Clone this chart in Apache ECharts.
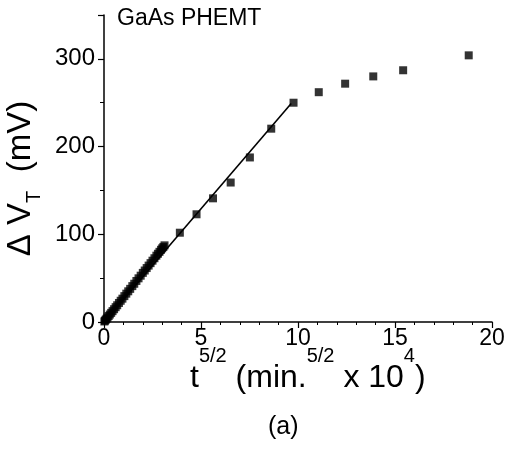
<!DOCTYPE html>
<html><head><meta charset="utf-8">
<script src="https://cdn.jsdelivr.net/npm/echarts@6/dist/echarts.min.js"></script>
<style>html,body{margin:0;padding:0;background:#fff}#c{width:507px;height:449px}</style>
</head><body><div id="c"></div>
<script>
// Dense early measurements (x = t^(5/2) in min^(5/2) x 1e4, y = ΔVT in mV)
var denseX = [0.02,0.05,0.09,0.13,0.18,0.24,0.30,0.37,0.44,0.52,0.60,0.68,0.77,0.86,0.95,1.05,1.15,1.25,1.35,1.46,1.56,1.67,1.78,1.89,2.00,2.10,2.20,2.30,2.40,2.50,2.60,2.70,2.78,2.86,2.94,3.00,3.06,3.12];
var denseY = [0.6,1.5,2.6,3.7,5.1,6.8,8.5,10.4,12.4,14.6,16.9,19.1,21.7,24.2,26.6,29.5,32.3,35.0,37.8,40.9,43.6,46.8,49.8,52.8,56.0,58.7,61.5,64.3,67.1,69.9,72.7,75.6,77.8,80.0,82.3,84.0,85.6,87.4];
// Later, sparser measurements
var sparseX = [3.91,4.77,5.62,6.53,7.52,8.62,9.77,11.07,12.43,13.88,15.42,18.80];
var sparseY = [101.8,122.8,141.0,159.0,187.6,220.4,250.0,262.0,271.7,280.0,287.0,304.0];
// Linear fit line endpoints
var fitX = [0, 9.65];
var fitY = [0, 249];
var xTicks = [0,5,10,15,20];
var yTicks = [0,100,200,300];

var pts = [];
for (var i=0;i<denseX.length;i++) pts.push([denseX[i],denseY[i]]);
for (var j=0;j<sparseX.length;j++) pts.push([sparseX[j],sparseY[j]]);
var fit = fitX.map(function(x,k){return [x,fitY[k]];});

var chart = echarts.init(document.getElementById('c'), null, {renderer:'canvas'});
var F = 'Liberation Sans, Arial, sans-serif';
chart.setOption({
  animation:false,
  backgroundColor:'#fff',
  title:[
    {text:'GaAs PHEMT', left:117, top:7, padding:0,
     textStyle:{fontFamily:F, fontSize:23, fontWeight:'normal', color:'#000'}},
    {text:'{m|t}{s|5/2}{m| (min.}{s|5/2}{m| x 10}{s|4}{m|)}', left:190, top:346, padding:0,
     textStyle:{fontFamily:F, fontSize:32, fontWeight:'normal', color:'#000',
       rich:{
         m:{fontFamily:F, fontSize:32, lineHeight:48, verticalAlign:'bottom', color:'#000'},
         s:{fontFamily:F, fontSize:20, lineHeight:20, verticalAlign:'top', color:'#000'}
       }}},
    {text:'(a)', left:268, top:415, padding:0,
     textStyle:{fontFamily:F, fontSize:25, fontWeight:'normal', color:'#000'}}
  ],
  grid:{left:104, right:15, top:15, bottom:127, containLabel:false, outerBoundsMode:'none'},
  xAxis:{
    type:'value', min:0, max:20, interval:5,
    axisLine:{lineStyle:{color:'#000', width:1.5}},
    axisTick:{show:true, length:6, inside:false, lineStyle:{color:'#000', width:1.2}},
    minorTick:{show:true, splitNumber:5, length:3, lineStyle:{color:'#000', width:1}},
    splitLine:{show:false},
    axisLabel:{color:'#000', fontFamily:F, fontSize:23, margin:5,
      formatter:function(v){return xTicks.indexOf(v)>=0 ? String(v) : '';}}
  },
  yAxis:{
    type:'value', min:0, max:350, interval:100,
    name:'{m|\u0394 V}{s|T}{m|  (mV)}', nameLocation:'middle', nameGap:60, nameRotate:90,
    nameTextStyle:{fontFamily:F, fontSize:33, color:'#000', padding:[0,20,0,0],
      rich:{
        m:{fontFamily:F, fontSize:33, lineHeight:40, verticalAlign:'top', color:'#000'},
        s:{fontFamily:F, fontSize:20, lineHeight:20, verticalAlign:'bottom', color:'#000'}
      }},
    axisLine:{show:true, lineStyle:{color:'#000', width:1.5}},
    axisTick:{show:true, length:6, inside:false, lineStyle:{color:'#000', width:1.2}},
    minorTick:{show:true, splitNumber:2, length:4, lineStyle:{color:'#000', width:1}},
    splitLine:{show:false},
    axisLabel:{color:'#000', fontFamily:F, fontSize:24, margin:9,
      formatter:function(v){return yTicks.indexOf(v)>=0 ? String(v) : '';}}
  },
  series:[
    {type:'line', data:fit, symbol:'none', lineStyle:{color:'#000', width:1.6}, z:2},
    {type:'scatter', data:pts, symbol:'rect', symbolSize:8, itemStyle:{color:'#000'}, z:3}
  ]
});
</script></body></html>
